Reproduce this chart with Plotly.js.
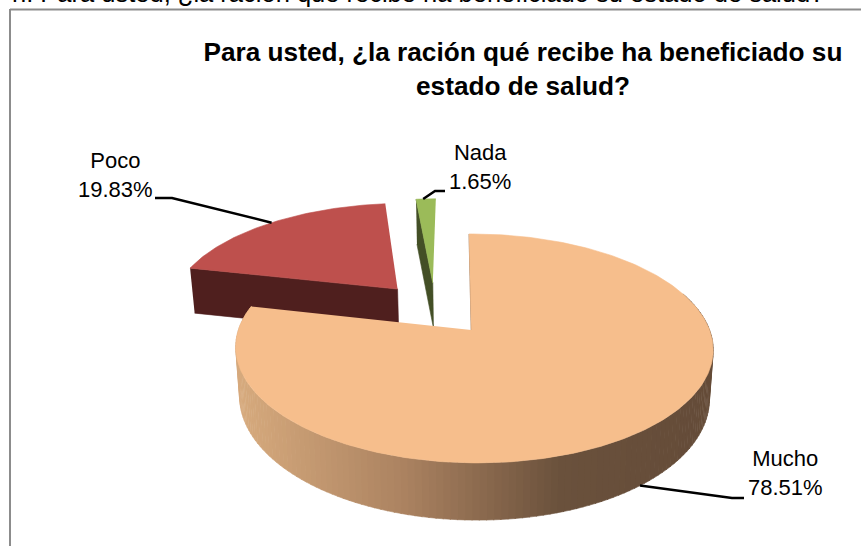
<!DOCTYPE html>
<html><head><meta charset="utf-8">
<script src="https://cdn.plot.ly/plotly-3.0.1.min.js"></script>
<style>html,body{margin:0;padding:0;background:#fff;overflow:hidden}</style>
</head><body><div id="chart" style="width:861px;height:546px"></div>
<script>
const categories = ["Mucho", "Poco", "Nada"];
const percents = [78.51, 19.83, 1.65];
const topColors = ["#F6BE8C", "#BE504D", "#9BBB59"];
const wallColors = ["#644B38", "#4F1F1E", "#434F26"];
const chartTitle = "Para usted, ¿la ración qué recibe ha beneficiado su<br>estado de salud?";
const clippedCaption = "n. Para usted, ¿la ración que recibe ha beneficiado su estado de salud?";

// Projection of the tilted pie (a circle seen in perspective)
const CX = 474, CY = 330, SX = 235.6, SY = 111.5, K = 0.161, LEAN = -0.026, DEPTH = 48, SLICE_DEPTH = 45, SHRINK = 0.984, MIDX = 474;
const explode = [[0, 0], [-0.34, 0.39], [-0.182, 0.451]];
const total = percents.reduce((a, b) => a + b, 0);
const rad = d => d * Math.PI / 180;
function topPt(i, deg, r) {
  r = r === undefined ? 1 : r;
  const X = explode[i][0] + r * Math.sin(rad(deg)), Z = explode[i][1] + r * Math.cos(rad(deg));
  const w = 1 + K * Z, u = X / w, v = Z / w;
  return [CX + SX * u + LEAN * SY * v, CY - SY * v, w];
}
function lowPt(i, deg, r) {
  const p = topPt(i, deg, r);
  return [MIDX + (p[0] - MIDX) * SHRINK, p[1] + (i === 0 ? DEPTH / p[2] : SLICE_DEPTH)];
}
let start = 0;
const spans = percents.map(p => { const s = [start, start + p / total * 360]; start = s[1]; return s; });
function arc(i, a, b, fn) {
  const n = Math.max(2, Math.ceil(Math.abs(b - a))), pts = [];
  for (let j = 0; j <= n; j++) pts.push(fn(i, a + (b - a) * j / n));
  return pts;
}
function poly(pts, color) {
  return { type: "scatter", mode: "lines", x: pts.map(p => p[0]), y: pts.map(p => p[1]), fill: "toself",
    fillcolor: color, line: { color: color, width: 0.6 }, hoverinfo: "skip", showlegend: false };
}
function lerpColor(x) {
  const stops = [[240, [214, 170, 125]], [400, [172, 131, 97]], [560, [106, 81, 60]], [720, [100, 75, 56]]];
  for (let s = 0; s < stops.length - 1; s++) {
    if (x <= stops[s + 1][0]) {
      const t = Math.max(0, (x - stops[s][0]) / (stops[s + 1][0] - stops[s][0]));
      const c = stops[s][1].map((v, k) => Math.round(v + (stops[s + 1][1][k] - v) * t));
      return "rgb(" + c.join(",") + ")";
    }
  }
  return wallColors[0];
}
const traces = [];
// Poco: radial wall and top
{
  const a = spans[1][0], b = spans[1][1];
  traces.push(poly([topPt(1, a), topPt(1, a, 0), lowPt(1, a, 0), lowPt(1, a)], wallColors[1]));
  traces.push(poly([topPt(1, 0, 0)].concat(arc(1, a, b, topPt)), topColors[1]));
}
// Nada: radial wall and top
{
  const a = spans[2][0], b = spans[2][1];
  traces.push(poly([topPt(2, a), topPt(2, a, 0), lowPt(2, a, 0), lowPt(2, a)], wallColors[2]));
  traces.push(poly([topPt(2, 0, 0)].concat(arc(2, a, b, topPt)), topColors[2]));
}
// Mucho: curved wall in bands, thin radial wall, top (start edge turned slightly, as in the 3-D view)
{
  const a = spans[0][0] - 0.7, b = spans[0][1], step = 1.5;
  for (let d = 70; d < b; d += step) {
    const e = Math.min(b, d + step + 0.2);
    const pts = arc(0, d, e, topPt).concat(arc(0, e, d, lowPt));
    traces.push(poly(pts, lerpColor(topPt(0, (d + e) / 2)[0])));
  }
  const t0 = topPt(0, 0, 0), tip = [t0[0] - 2.8, t0[1]], rim = topPt(0, a);
  traces.push(poly([rim, tip, [tip[0] + 1.6, tip[1]]], wallColors[0]));
  traces.push(poly([tip].concat(arc(0, a, b, topPt)), topColors[0]));
}
// Leader lines, starting on each slice's rim
const lead = [
  [lowPt(0, 142), [732, 498], [744, 498]],
  [topPt(1, 318.5), [172, 198], [155, 198]],
  [topPt(2, 356.2), [435, 191], [445, 191]]
];
lead.forEach(p => traces.push({ type: "scatter", mode: "lines", x: p.map(q => q[0]), y: p.map(q => q[1]),
  line: { color: "#000", width: 2.5 }, hoverinfo: "skip", showlegend: false }));

const labelPos = [[785, 473], [115, 175], [480, 167]];
const annotations = categories.map((c, i) => ({
  text: c + "<br>" + percents[i].toFixed(2) + "%", x: labelPos[i][0], y: labelPos[i][1], xref: "x", yref: "y",
  showarrow: false, xanchor: "center", yanchor: "middle", font: { family: "Liberation Sans", size: 22, color: "#000" }
}));
annotations.push({ text: clippedCaption, x: 826, y: 9.3, xref: "x", yref: "y", showarrow: false, xanchor: "right", yanchor: "bottom",
  font: { family: "Liberation Sans", size: 25.5, color: "#000" } });

const layout = {
  width: 861, height: 546, margin: { l: 0, r: 0, t: 0, b: 0 }, paper_bgcolor: "#fff", plot_bgcolor: "#fff",
  title: { text: chartTitle, x: 523 / 861, xanchor: "center", y: 1 - 61 / 546, yanchor: "top",
    font: { family: "Liberation Sans", size: 26.2, color: "#000", weight: 700 } },
  xaxis: { range: [0, 861], visible: false, fixedrange: true },
  yaxis: { range: [546, 0], visible: false, fixedrange: true },
  showlegend: false, annotations: annotations,
  shapes: [
    { type: "line", xref: "x", yref: "y", x0: 10, x1: 861, y0: 9.5, y1: 9.5, line: { color: "#8c8c8c", width: 2 } },
    { type: "line", xref: "x", yref: "y", x0: 10, x1: 10, y0: 9, y1: 546, line: { color: "#8c8c8c", width: 2 } }
  ]
};
Plotly.newPlot("chart", traces, layout, { displayModeBar: false, staticPlot: true });
</script></body></html>
